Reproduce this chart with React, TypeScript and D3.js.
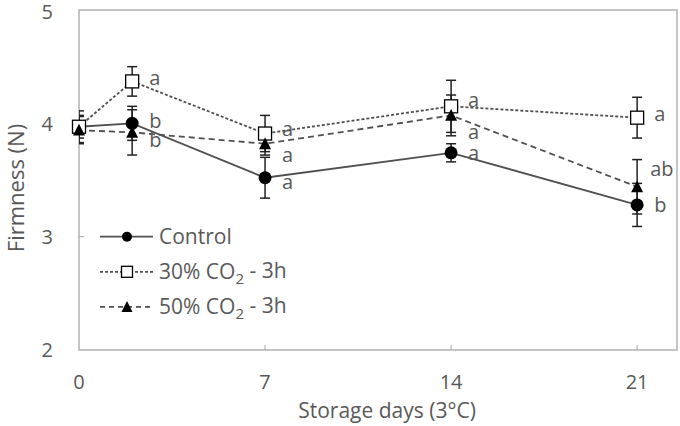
import React from 'react';
import * as d3 from 'd3';

const days = [0, 2, 7, 14, 21];

const controlMean = [3.97, 4.0, 3.52, 3.74, 3.28];
const controlErr = [0.1, 0.15, 0.18, 0.08, 0.19];

const co2_30Mean = [3.97, 4.37, 3.91, 4.15, 4.05];
const co2_30Err = [0.14, 0.13, 0.16, 0.23, 0.18];

const co2_50Mean = [3.94, 3.92, 3.82, 4.07, 3.44];
const co2_50Err = [0.12, 0.2, 0.1, 0.18, 0.24];

// significance letters: day, value where the letter sits, text
const letterDays = [2, 2, 2, 7, 7, 7, 14, 14, 14, 21, 21, 21];
const letterValues = [4.4, 4.02, 3.85, 3.95, 3.72, 3.48, 4.21, 3.92, 3.74, 4.08, 3.6, 3.28];
const letterTexts = ['a', 'b', 'b', 'a', 'a', 'a', 'a', 'a', 'a', 'a', 'ab', 'b'];

const xTicks = [0, 7, 14, 21];
const yTicks = [2, 3, 4, 5];

const W = 680;
const H = 426;
const margin = { top: 10, right: 3, bottom: 76, left: 79 };
const font = '"Open Sans", sans-serif';
const textColor = '#595959';
const lineColor = '#505050';

type Shape = 'circle' | 'square' | 'triangle';

const Marker: React.FC<{ x: number; y: number; shape: Shape; size: number }> = ({ x, y, shape, size }) => {
    if (shape === 'circle') return <circle cx={x} cy={y} r={size / 2} fill="#000" />;
    if (shape === 'square')
        return <rect x={x - size / 2} y={y - size / 2} width={size} height={size} fill="#fff" stroke="#000" strokeWidth={1.3} />;
    const h = size * 0.9;
    return <path d={`M${x},${y - h / 2 - 1}L${x + size / 2},${y + h / 2}L${x - size / 2},${y + h / 2}Z`} fill="#000" />;
};

const App: React.FC = () => {
    const x = d3.scaleLinear().domain([0, 22.5]).range([margin.left, W - margin.right]);
    const y = d3.scaleLinear().domain([2, 5]).range([H - margin.bottom, margin.top]);

    const series = [
        { name: 'Control', mean: controlMean, err: controlErr, shape: 'circle' as Shape, dash: undefined, size: 13 },
        { name: '30%', mean: co2_30Mean, err: co2_30Err, shape: 'square' as Shape, dash: '3,2', size: 13 },
        { name: '50%', mean: co2_50Mean, err: co2_50Err, shape: 'triangle' as Shape, dash: '6,4', size: 12 },
    ];

    const line = d3
        .line<number>()
        .x((_, i) => x(days[i]))
        .y((d) => y(d));

    const x0 = margin.left;
    const x1 = W - margin.right;
    const y0 = margin.top;
    const y1 = H - margin.bottom;

    const legendRows = [
        { shape: 'circle' as Shape, dash: undefined, size: 10, label: 'Control' },
        { shape: 'square' as Shape, dash: '3,2', size: 11, label: '30% CO' },
        { shape: 'triangle' as Shape, dash: '5,4', size: 11, label: '50% CO' },
    ];
    const legendY = d3.scalePoint<number>().domain([0, 1, 2]).range([y(3), y(2.38)]);

    return (
        <svg width={W} height={H} style={{ position: 'absolute', left: 0, top: 0, background: '#fff' }}>
            <defs>
                <clipPath id="plot">
                    <rect x={x0} y={y0} width={x1 - x0} height={y1 - y0} />
                </clipPath>
            </defs>
            {/* frame */}
            <rect x={x0} y={y0} width={x1 - x0} height={y1 - y0} fill="none" stroke="#a6a6a6" strokeWidth={1.3} />
            {xTicks.map((t) => (
                <g key={'x' + t}>
                    {t > 0 && <line x1={x(t)} x2={x(t)} y1={y1} y2={y1 - 5} stroke="#a6a6a6" />}
                    <text x={x(t)} y={389} textAnchor="middle" fontFamily={font} fontSize={20} fill={textColor}>
                        {t}
                    </text>
                </g>
            ))}
            {yTicks.map((t) => (
                <g key={'y' + t}>
                    {t > 2 && t < 5 && <line x1={x0} x2={x0 + 5} y1={y(t)} y2={y(t)} stroke="#a6a6a6" />}
                    <text x={53} y={Math.max(y(t), 12)} dy="0.36em" textAnchor="end" fontFamily={font} fontSize={20} fill={textColor}>
                        {t}
                    </text>
                </g>
            ))}
            <text
                transform={`translate(24,${(y0 + y1) / 2 + 8}) rotate(-90)`}
                textAnchor="middle"
                fontFamily={font}
                fontSize={22}
                fill={textColor}
            >
                Firmness (N)
            </text>
            <text x={387} y={418} textAnchor="middle" fontFamily={font} fontSize={21} fill={textColor}>
                Storage days (3°C)
            </text>

            {/* lines */}
            {series.map((s) => (
                <path key={'l' + s.name} d={line(s.mean) || ''} fill="none" stroke={lineColor} strokeWidth={1.8} strokeDasharray={s.dash} />
            ))}
            {/* error bars */}
            <g clipPath="url(#plot)">
                {series.map((s) =>
                    s.mean.map((m, i) => {
                        const cx = x(days[i]);
                        const top = y(m + s.err[i]);
                        const bot = y(m - s.err[i]);
                        return (
                            <g key={s.name + 'e' + i} stroke="#222" strokeWidth={1.5}>
                                <line x1={cx} x2={cx} y1={top} y2={bot} />
                                <line x1={cx - 5} x2={cx + 5} y1={top} y2={top} />
                                <line x1={cx - 5} x2={cx + 5} y1={bot} y2={bot} />
                            </g>
                        );
                    })
                )}
            </g>
            {/* markers */}
            {series.map((s) =>
                s.mean.map((m, i) => <Marker key={s.name + 'm' + i} x={x(days[i])} y={y(m)} shape={s.shape} size={s.size} />)
            )}
            {/* letters */}
            {letterTexts.map((t, i) => (
                <text
                    key={'lt' + i}
                    x={x(letterDays[i]) + (t === 'ab' ? 13 : 17)}
                    y={y(letterValues[i])}
                    dy="0.35em"
                    fontFamily={font}
                    fontSize={20}
                    fill={textColor}
                >
                    {t}
                </text>
            ))}
            {/* legend */}
            {legendRows.map((r, i) => {
                const ly = legendY(i) || 0;
                return (
                    <g key={'lg' + i}>
                        <line x1={100} x2={153} y1={ly} y2={ly} stroke={lineColor} strokeWidth={1.8} strokeDasharray={r.dash} />
                        <Marker x={127} y={ly} shape={r.shape} size={r.size} />
                        <text x={159} y={ly} dy="0.36em" fontFamily={font} fontSize={21} fill={textColor}>
                            {r.label}
                            {i > 0 && (
                                <>
                                    <tspan fontSize={15} dy="0.3em">2</tspan>
                                    <tspan dy="-0.3em"> - 3h</tspan>
                                </>
                            )}
                        </text>
                    </g>
                );
            })}
        </svg>
    );
};

export default App;
